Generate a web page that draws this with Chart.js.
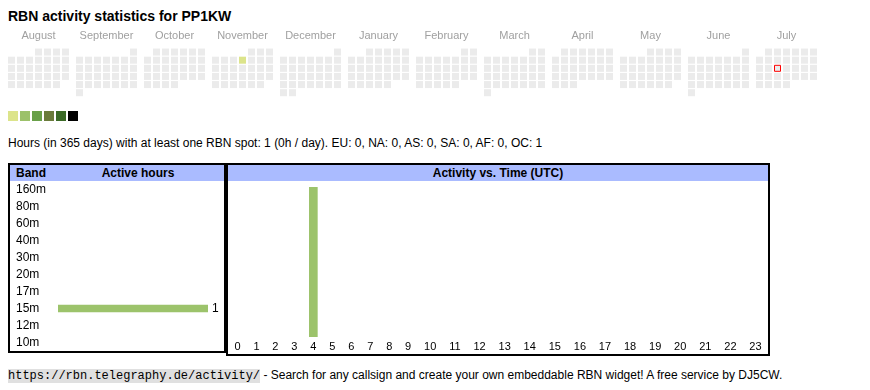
<!DOCTYPE html>
<html>
<head>
<meta charset="utf-8">
<script src="https://cdn.jsdelivr.net/npm/chart.js@4.4.1/dist/chart.umd.min.js"></script>
<style>
  html,body{margin:0;padding:0;background:#fff;}
  body{width:870px;height:390px;position:relative;overflow:hidden;font-family:Arial,"Liberation Sans",sans-serif;color:#000;}
  .abs{position:absolute;}
  #title{left:8px;top:7px;font-size:14px;font-weight:bold;line-height:18px;white-space:nowrap;}
  #calCanvas{position:absolute;left:0;top:25px;}
  .sw{position:absolute;top:111px;width:10px;height:10px;}
  #summary{left:8px;top:136px;font-size:12px;line-height:14px;white-space:nowrap;}
  .box{position:absolute;border:2px solid #000;box-sizing:border-box;background:#fff;}
  .hdr{position:absolute;left:0;right:0;top:0;height:16px;background:#aabbff;font-weight:bold;font-size:12px;line-height:16px;white-space:nowrap;}
  #footer{left:8px;top:368px;font-size:12px;line-height:14px;white-space:nowrap;}
  #footer code{font-family:"Liberation Mono","Courier New",monospace;font-size:12px;background:#e0e0e0;}
</style>
</head>
<body>
<div id="title" class="abs">RBN activity statistics for PP1KW</div>
<canvas id="calCanvas" width="830" height="77"></canvas>
<div id="legend"></div>
<div id="summary" class="abs">Hours (in 365 days) with at least one RBN spot: 1 (0h / day). EU: 0, NA: 0, AS: 0, SA: 0, AF: 0, OC: 1</div>

<div class="box" style="left:8px;top:163px;width:218px;height:190px;">
  <div class="hdr"><span style="position:absolute;left:6px;">Band</span><span style="position:absolute;left:42px;right:0;text-align:center;">Active hours</span></div>
  <canvas id="bandCanvas" width="214" height="170" style="position:absolute;left:0;top:16px;"></canvas>
</div>
<div class="box" style="left:226px;top:163px;width:544px;height:193px;">
  <div class="hdr" style="text-align:center;">Activity vs. Time (UTC)</div>
  <canvas id="hourCanvas" width="540" height="173" style="position:absolute;left:0;top:16px;"></canvas>
</div>

<div id="footer" class="abs"><code>https://rbn.telegraphy.de/activity/</code> - Search for any callsign and create your own embeddable RBN widget! A free service by DJ5CW.</div>

<script>
// ---------------- data ----------------
const monthNames = ['August','September','October','November','December','January','February','March','April','May','June','July'];
const monthYears = [2024,2024,2024,2024,2024,2025,2025,2025,2025,2025,2025,2025];
const monthNumbers = [8,9,10,11,12,1,2,3,4,5,6,7];
const activeDays = ['2024-11-07'];
const activeDayLevels = [1];
const todayDate = '2025-07-16';

const bands = ['160m','80m','60m','40m','30m','20m','17m','15m','12m','10m'];
const bandHours = [0,0,0,0,0,0,0,1,0,0];

const hourLabels = ['0','1','2','3','4','5','6','7','8','9','10','11','12','13','14','15','16','17','18','19','20','21','22','23'];
const hourActivity = [0,0,0,0,1,0,0,0,0,0,0,0,0,0,0,0,0,0,0,0,0,0,0,0];

// ---------------- styles ----------------
const FONT = 'Arial, "Liberation Sans", sans-serif';
const levelColors = ['#ebebeb','#dce48b','#9cc16a','#69a049','#6a7b3b','#3b6a26','#000000'];
const BAR_COLOR = '#9cc36b';
const barFill = c => (c.raw && (typeof c.raw === 'object' ? c.raw.y : c.raw) > 0) ? BAR_COLOR : 'rgba(0,0,0,0)';
Chart.defaults.font.family = FONT;
Chart.defaults.color = '#000';
const noPadX = s => { s.paddingLeft = 0; s.paddingRight = 0; };
const noPadY = s => { s.paddingTop = 0; s.paddingBottom = 0; };

// legend swatches
const legend = document.getElementById('legend');
levelColors.slice(1).forEach((c,i)=>{
  const d = document.createElement('div');
  d.className = 'sw';
  d.style.left = (8 + i*12) + 'px';
  d.style.background = c;
  legend.appendChild(d);
});

// ---------------- calendar ----------------
const MONTH_SPAN = 7 + 5/9;   // seven weekday columns plus the gap between months
const calPoints = [], calBg = [], calBorder = [], calBw = [], calR = [];
const pad = n => String(n).padStart(2,'0');
monthNames.forEach((name, m) => {
  const y = monthYears[m], mn = monthNumbers[m];
  const nDays = new Date(Date.UTC(y, mn, 0)).getUTCDate();
  const first = (new Date(Date.UTC(y, mn-1, 1)).getUTCDay() + 6) % 7;
  for (let d = 1; d <= nDays; d++) {
    const k = first + d - 1;
    const key = `${y}-${pad(mn)}-${pad(d)}`;
    calPoints.push({x: m*MONTH_SPAN + (k % 7), y: Math.floor(k / 7)});
    const ai = activeDays.indexOf(key);
    calBg.push(ai >= 0 ? levelColors[activeDayLevels[ai]] : levelColors[0]);
    if (key === todayDate) {
      calBorder.push('#ff0000'); calBw.push(1); calR.push(3 / Math.SQRT1_2);
    } else {
      calBorder.push('rgba(0,0,0,0)'); calBw.push(0); calR.push(3.5 / Math.SQRT1_2);
    }
  }
});

new Chart(document.getElementById('calCanvas'), {
  type: 'scatter',
  data: {datasets: [{data: calPoints, pointStyle: 'rect', pointRadius: calR,
    pointBackgroundColor: calBg, pointBorderColor: calBorder, pointBorderWidth: calBw, clip: false}]},
  options: {
    responsive: false, animation: false, events: [],
    layout: {padding: {left: 7, right: 12, top: 0, bottom: 0}},
    plugins: {legend: {display: false}, tooltip: {enabled: false}},
    scales: {
      x: {type: 'linear', position: 'top', min: -0.5, max: (monthNames.length-1)*MONTH_SPAN + 6.5,
        grid: {display: false, drawTicks: false}, border: {display: false},
        ticks: {autoSkip: false, maxRotation: 0, padding: 5, color: '#a0a0a0', font: {size: 11},
          callback: (v, i) => monthNames[i]},
        afterBuildTicks: s => { s.ticks = monthNames.map((_, m) => ({value: m*MONTH_SPAN + 3})); },
        afterFit: s => { s.height = 23; noPadX(s); }},
      y: {type: 'linear', display: false, min: -0.5, max: 5.5, reverse: true}
    }
  }
});

// ---------------- band chart ----------------
const valueLabels = {
  id: 'valueLabels',
  afterDatasetsDraw(chart) {
    const ctx = chart.ctx, meta = chart.getDatasetMeta(0), data = chart.data.datasets[0].data;
    ctx.save();
    ctx.font = '12px ' + FONT; ctx.fillStyle = '#000';
    ctx.textAlign = 'left'; ctx.textBaseline = 'middle';
    meta.data.forEach((bar, i) => { if (data[i] > 0) ctx.fillText(String(data[i]), bar.x + 4, bar.y); });
    ctx.restore();
  }
};

new Chart(document.getElementById('bandCanvas'), {
  type: 'bar',
  data: {labels: bands, datasets: [{data: bandHours, backgroundColor: barFill, borderWidth: 0, barThickness: 7}]},
  options: {
    indexAxis: 'y', responsive: false, animation: false, events: [],
    layout: {padding: {left: 6, right: 16, top: 0, bottom: 0}},
    plugins: {legend: {display: false}, tooltip: {enabled: false}},
    scales: {
      x: {display: false, min: 0, max: Math.max(...bandHours)},
      y: {grid: {display: false, drawTicks: false}, border: {display: false},
        ticks: {crossAlign: 'far', padding: 0, autoSkip: false, color: '#000', font: {size: 12}},
        afterFit: s => { s.width = 42; noPadY(s); }}
    }
  },
  plugins: [valueLabels]
});

// ---------------- hour chart ----------------
const HOUR_FONT_SIZE = 11;
const hourCanvas = document.getElementById('hourCanvas');
const mctx = document.createElement('canvas').getContext('2d');
mctx.font = HOUR_FONT_SIZE + 'px ' + FONT;
const tableWidth = hourCanvas.width;
const textW = hourLabels.map(l => mctx.measureText(l).width);
const extraW = (tableWidth - textW.reduce((a, b) => a + b, 0)) / hourLabels.length;
const hourCenters = [];
let acc = 0;
textW.forEach(w => { hourCenters.push(acc + (w + extraW) / 2); acc += w + extraW; });

new Chart(hourCanvas, {
  type: 'bar',
  data: {datasets: [{data: hourActivity.map((v, i) => ({x: hourCenters[i], y: v})),
    backgroundColor: barFill, borderWidth: 0, barThickness: 8}]},
  options: {
    responsive: false, animation: false, events: [],
    layout: {padding: {left: 0, right: 0, top: 6, bottom: 0}},
    plugins: {legend: {display: false}, tooltip: {enabled: false}},
    scales: {
      x: {type: 'linear', offset: false, min: 0, max: tableWidth,
        grid: {display: false, drawTicks: false}, border: {display: false},
        ticks: {autoSkip: false, maxRotation: 0, padding: 3, color: '#000', font: {size: HOUR_FONT_SIZE},
          callback: (v, i) => hourLabels[i]},
        afterBuildTicks: s => { s.ticks = hourCenters.map(c => ({value: c})); },
        afterFit: s => { s.height = 17; noPadX(s); }},
      y: {display: false, min: 0, max: Math.max(...hourActivity)}
    }
  }
});
</script>
</body>
</html>
